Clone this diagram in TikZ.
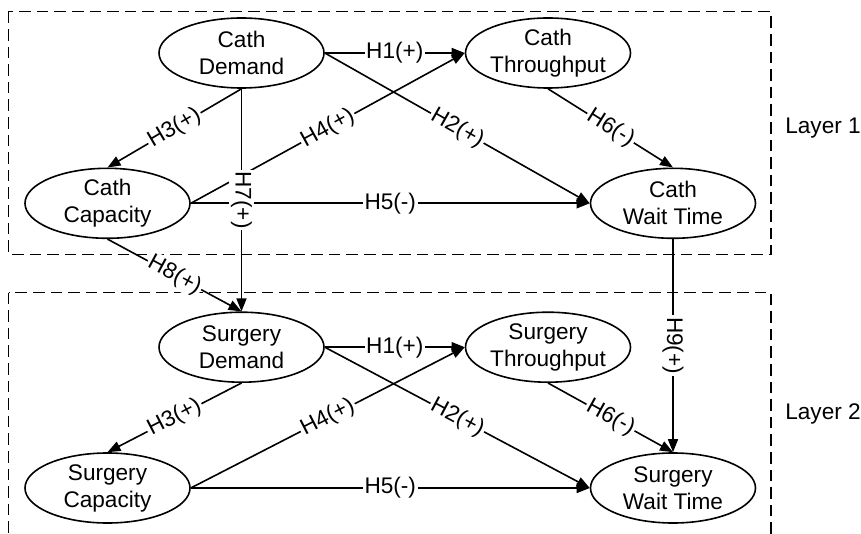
\documentclass[tikz,border=0pt]{standalone}
\usepackage{fontspec}
\setmainfont{Liberation Sans}
\usetikzlibrary{positioning,shapes,arrows.meta}
\tikzset{
    latent/.style = {draw, ellipse, line width=0.8pt,
        minimum width=82.5pt, minimum height=35pt,
        inner sep=0pt, align=center},
    arrow/.style = {draw, line width=0.8pt, -{Triangle[length=6.5pt,width=5pt]}},
    hyp/.style = {fill=white, inner sep=0.8pt},
    layerbox/.style = {draw, line width=0.8pt, dash pattern=on 5.8pt off 3pt}
}

\begin{document}
\begin{tikzpicture}[x=0.5pt, y=-0.5pt, node distance=2cm,
    every node/.style={font=\fontsize{11.3}{13.5}\selectfont}]
    \useasboundingbox (0,0) rectangle (861,534);
    % layers
    \draw [layerbox] (8.5,11.5) rectangle (771,254.5);
    \draw [layerbox] (8.5,292.5) rectangle (771,560);
    \node (lay1) at (823,128) {Layer 1};
    \node (lay2) at (823,414) {Layer 2};
    % cath layer
    \node [latent] (dem1) at (241.5,53) {Cath\\Demand};
    \node [latent, right of=dem1, node distance=153.25pt] (thr1) {Cath\\Throughput};
    \node [latent] (cap1) at (107.5,203.3) {Cath\\Capacity};
    \node [latent, right of=cap1, node distance=282.75pt] (wait1) {Cath\\Wait Time};
    % surgery layer
    \node [latent, below of=dem1, node distance=147.1pt] (dem2) {Surgery\\Demand};
    \node [latent, right of=dem2, node distance=153.25pt] (thr2) {Surgery\\Throughput};
    \node [latent, below of=cap1, node distance=142.35pt] (cap2) {Surgery\\Capacity};
    \node [latent, right of=cap2, node distance=282.75pt] (wait2) {Surgery\\Wait Time};
    \foreach \a in {1,2}{
        \draw [arrow] (dem\a.east) -- node [hyp] {H1(+)} (thr\a.west);
        \draw [arrow] (dem\a.east) -- node [hyp, sloped] {H2(+)} (wait\a.west);
        \draw [arrow] (dem\a.south) -- node [hyp, sloped] {H3(+)} (cap\a.north);
        \draw [arrow] (cap\a.east) -- node [hyp, sloped] {H4(+)} (thr\a.west);
        \draw [arrow] (cap\a.east) -- node [hyp] {H5(-)} (wait\a.west);
        \draw [arrow] (thr\a.south) -- node [hyp, sloped] {H6(-)} (wait\a.north);
    }
    % between layers
    \draw [arrow] (dem1.south) -- node [hyp, rotate=-90] {H7(+)} (dem2.north);
    \draw [arrow] (cap1.south) -- node [hyp, sloped] {H8(+)} (dem2.north);
    \draw [arrow] (wait1.south) -- node [hyp, rotate=-90] {H9(+)} (wait2.north);
\end{tikzpicture}
\end{document}
